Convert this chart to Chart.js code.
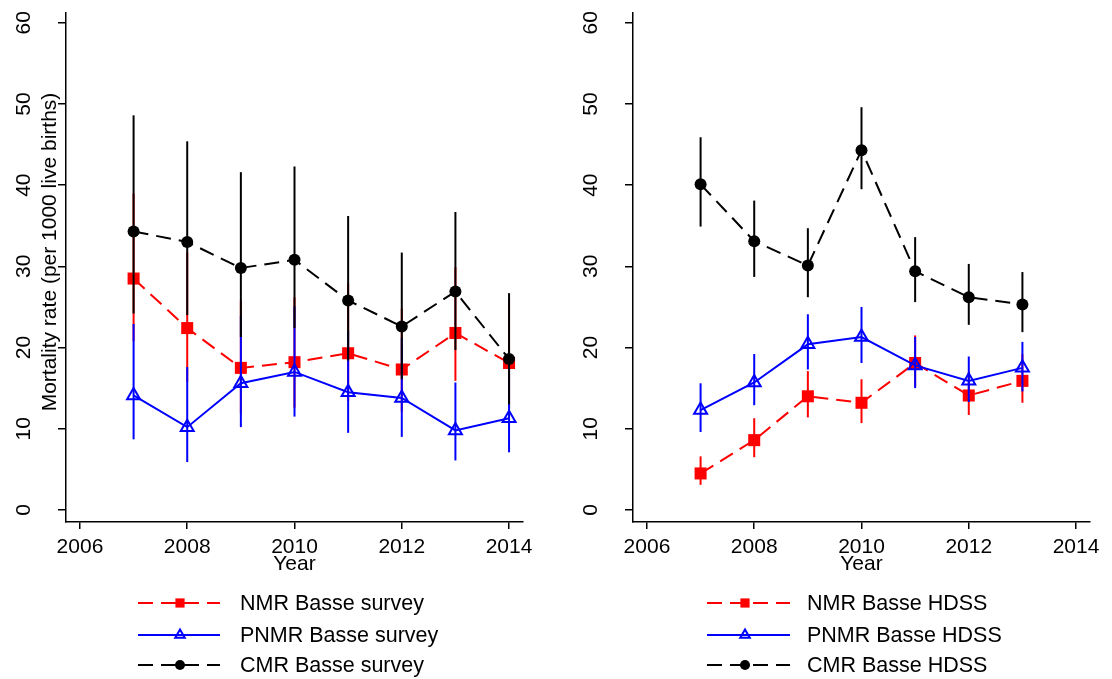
<!DOCTYPE html>
<html><head><meta charset="utf-8">
<script src="https://cdn.jsdelivr.net/npm/chart.js"></script>
<style>
html,body{margin:0;padding:0;background:#fff;}
#wrap{position:relative;width:1112px;height:679px;background:#fff;}
canvas{position:absolute;top:0;}
</style></head><body>
<div id="wrap">
<canvas id="c1" width="556" height="679" style="left:0"></canvas>
<canvas id="c2" width="556" height="679" style="left:556px"></canvas>
</div>
<script>
// ---- data ----
const xTickValues = [2006, 2008, 2010, 2012, 2014];
const yTickValues = [0, 10, 20, 30, 40, 50, 60];
const yTitle = 'Mortality rate (per 1000 live births)';
const xTitle = 'Year';

const yearsSurvey = [2007, 2008, 2009, 2010, 2011, 2012, 2013, 2014];
const nmrSurvey   = [28.5, 22.4, 17.5, 18.2, 19.3, 17.3, 21.8, 18.1];
const nmrSurveyLo = [20.8, 15.8, 11.9, 12.6, 13.4, 12.1, 15.9, 12.6];
const nmrSurveyHi = [39.0, 31.7, 25.8, 26.2, 27.9, 24.8, 29.9, 26.0];
const pnmrSurvey   = [14.1, 10.2, 15.6, 17.0, 14.5, 13.8, 9.8, 11.3];
const pnmrSurveyLo = [8.7, 5.9, 10.2, 11.5, 9.5, 9.0, 6.1, 7.1];
const pnmrSurveyHi = [22.9, 17.6, 23.9, 25.1, 22.1, 21.2, 15.7, 18.0];
const cmrSurvey   = [34.3, 33.0, 29.8, 30.8, 25.8, 22.6, 26.9, 18.6];
const cmrSurveyLo = [24.2, 24.0, 21.3, 22.4, 18.4, 16.1, 19.7, 13.0];
const cmrSurveyHi = [48.6, 45.4, 41.6, 42.3, 36.2, 31.7, 36.7, 26.7];
const labelsSurvey = ['NMR Basse survey', 'PNMR Basse survey', 'CMR Basse survey'];

const yearsHdss = [2007, 2008, 2009, 2010, 2011, 2012, 2013];
const nmrHdss   = [4.5, 8.6, 14.0, 13.2, 18.1, 14.1, 15.9];
const nmrHdssLo = [3.1, 6.5, 11.4, 10.7, 15.2, 11.7, 13.2];
const nmrHdssHi = [6.6, 11.3, 17.1, 16.1, 21.5, 17.0, 19.2];
const pnmrHdss   = [12.3, 15.7, 20.4, 21.3, 17.8, 15.9, 17.5];
const pnmrHdssLo = [9.6, 12.9, 17.3, 18.1, 15.0, 13.3, 14.6];
const pnmrHdssHi = [15.6, 19.2, 24.1, 25.0, 21.3, 18.9, 20.7];
const cmrHdss   = [40.1, 33.1, 30.1, 44.3, 29.4, 26.2, 25.3];
const cmrHdssLo = [34.9, 28.7, 26.2, 39.5, 25.6, 22.8, 21.9];
const cmrHdssHi = [45.9, 38.1, 34.7, 49.6, 33.6, 30.3, 29.3];
const labelsHdss = ['NMR Basse HDSS', 'PNMR Basse HDSS', 'CMR Basse HDSS'];

// ---- styles ----
const FONT = '"Liberation Sans", Arial, Helvetica, sans-serif';
Chart.defaults.font.family = FONT;
Chart.defaults.color = '#000';

const styles = [
  {color:'#ff0000', fill:'#ff0000', dash:[15,8], marker:'rect', radius:8.5, pbw:0, order:2, legendR:6.5},
  {color:'#0000ff', fill:'rgba(0,0,0,0)', dash:[], marker:'triangle', radius:7.5, pbw:2, order:1, legendR:5.5},
  {color:'#000000', fill:'#000000', dash:[15,8], marker:'circle', radius:6, pbw:0, order:0, legendR:5}
];

const errorBars = {
  id:'errorBars',
  beforeDatasetDraw(chart, args){
    const ds = chart.data.datasets[args.index];
    if(!ds.lo) return;
    const ctx = chart.ctx, x = chart.scales.x, y = chart.scales.y;
    ctx.save();
    ctx.strokeStyle = ds.borderColor; ctx.lineWidth = 2; ctx.setLineDash([]);
    ds.data.forEach((p,i)=>{
      const px = x.getPixelForValue(p.x);
      ctx.beginPath();
      ctx.moveTo(px, y.getPixelForValue(ds.lo[i]));
      ctx.lineTo(px, y.getPixelForValue(ds.hi[i]));
      ctx.stroke();
    });
    ctx.restore();
  }
};

function drawMarker(ctx, style, x, y, r, color){
  ctx.save();
  ctx.setLineDash([]);
  if(style==='rect'){ ctx.fillStyle=color; ctx.fillRect(x-r*0.707, y-r*0.707, r*1.414, r*1.414); }
  else if(style==='circle'){ ctx.fillStyle=color; ctx.beginPath(); ctx.arc(x,y,r,0,Math.PI*2); ctx.fill(); }
  else if(style==='triangle'){
    ctx.strokeStyle=color; ctx.lineWidth=2; ctx.beginPath();
    for(let k=0;k<3;k++){ const a = k*2*Math.PI/3; const px=x+Math.sin(a)*r, py=y-Math.cos(a)*r; if(k===0) ctx.moveTo(px,py); else ctx.lineTo(px,py); }
    ctx.closePath(); ctx.stroke();
  }
  ctx.restore();
}

const decor = {
  id:'decor',
  afterDraw(chart, args, o){
    const ctx = chart.ctx, y = chart.scales.y;
    ctx.save();
    ctx.fillStyle = '#000';
    ctx.font = '21px ' + FONT;
    ctx.textAlign = 'center'; ctx.textBaseline = 'middle';
    y.ticks.forEach(t=>{
      const py = y.getPixelForValue(t.value);
      ctx.save(); ctx.translate(o.yLabelX, py); ctx.rotate(-Math.PI/2); ctx.fillText(String(t.value),0,0); ctx.restore();
    });
    if(o.yTitle){
      ctx.save(); ctx.translate(o.yTitleX, o.yTitleY); ctx.rotate(-Math.PI/2); ctx.fillText(o.yTitle,0,0); ctx.restore();
    }
    // legend
    chart.data.datasets.forEach((ds,i)=>{
      const ry = o.legendY[i];
      const st = styles[i];
      ctx.save();
      ctx.strokeStyle = ds.borderColor; ctx.lineWidth = 2; ctx.setLineDash(st.dash);
      ctx.beginPath(); ctx.moveTo(o.lineX0, ry); ctx.lineTo(o.lineX1, ry); ctx.stroke();
      ctx.restore();
      drawMarker(ctx, st.marker, o.markerX, ry, st.legendR, st.color);
      ctx.save();
      ctx.fillStyle = '#000'; ctx.font = '21.5px ' + FONT; ctx.textAlign='left'; ctx.textBaseline='middle';
      ctx.fillText(ds.label, o.textX, ry + 1);
      ctx.restore();
    });
    ctx.restore();
  }
};

function makeChart(id, years, series, opts){
  const datasets = series.map((s,i)=>{
    const st = styles[i];
    return {
      label: s.label,
      data: years.map((yr,k)=>({x:yr, y:s.values[k]})),
      lo: s.lo, hi: s.hi,
      borderColor: st.color, backgroundColor: st.fill, borderWidth: 2, borderDash: st.dash,
      pointStyle: st.marker, pointRadius: st.radius, pointBorderWidth: st.pbw,
      pointBackgroundColor: st.fill, pointBorderColor: st.color,
      order: st.order, tension: 0, fill: false
    };
  });
  return new Chart(document.getElementById(id), {
    type:'line',
    data:{datasets},
    options:{
      responsive:false, animation:false, events:[],
      layout:{padding:{left:0, right:opts.padRight, top:13, bottom:97}},
      plugins:{legend:{display:false}, tooltip:{enabled:false}, decor: opts.decor},
      scales:{
        x:{
          type:'linear', min:2005.74, max:2014.26,
          afterBuildTicks: s=>{ s.ticks = xTickValues.map(v=>({value:v})); },
          afterFit: s=>{ s.height = 60; },
          grid:{drawOnChartArea:false, drawTicks:true, tickLength:7, color:'#000', lineWidth:1.5},
          border:{display:true, color:'#000', width:1.5},
          ticks:{color:'#000', font:{size:21}, padding:6, maxRotation:0, minRotation:0, autoSkip:false, callback:v=>String(v)},
          title:{display:true, text:xTitle, color:'#000', font:{size:21}, padding:{top:0, bottom:5}}
        },
        y:{
          type:'linear', min:-1.48, max:61.2,
          afterBuildTicks: s=>{ s.ticks = yTickValues.map(v=>({value:v})); },
          afterFit: s=>{ s.width = opts.yWidth; },
          grid:{drawOnChartArea:false, drawTicks:true, tickLength:8, color:'#000', lineWidth:1.5},
          border:{display:true, color:'#000', width:1.5},
          ticks:{display:false}
        }
      }
    },
    plugins:[errorBars, decor]
  });
}

makeChart('c1', yearsSurvey, [
  {label:labelsSurvey[0], values:nmrSurvey, lo:nmrSurveyLo, hi:nmrSurveyHi},
  {label:labelsSurvey[1], values:pnmrSurvey, lo:pnmrSurveyLo, hi:pnmrSurveyHi},
  {label:labelsSurvey[2], values:cmrSurvey, lo:cmrSurveyLo, hi:cmrSurveyHi}
], {yWidth:66, padRight:33, decor:{yLabelX:24, yTitle:yTitle, yTitleX:50, yTitleY:252,
   legendY:[603,635,665], lineX0:138, lineX1:220, markerX:180, textX:240}});

makeChart('c2', yearsHdss, [
  {label:labelsHdss[0], values:nmrHdss, lo:nmrHdssLo, hi:nmrHdssHi},
  {label:labelsHdss[1], values:pnmrHdss, lo:pnmrHdssLo, hi:pnmrHdssHi},
  {label:labelsHdss[2], values:cmrHdss, lo:cmrHdssLo, hi:cmrHdssHi}
], {yWidth:77, padRight:22, decor:{yLabelX:35, yTitle:null,
   legendY:[603,635,665], lineX0:151, lineX1:234, markerX:189, textX:251}});
</script>
</body></html>
